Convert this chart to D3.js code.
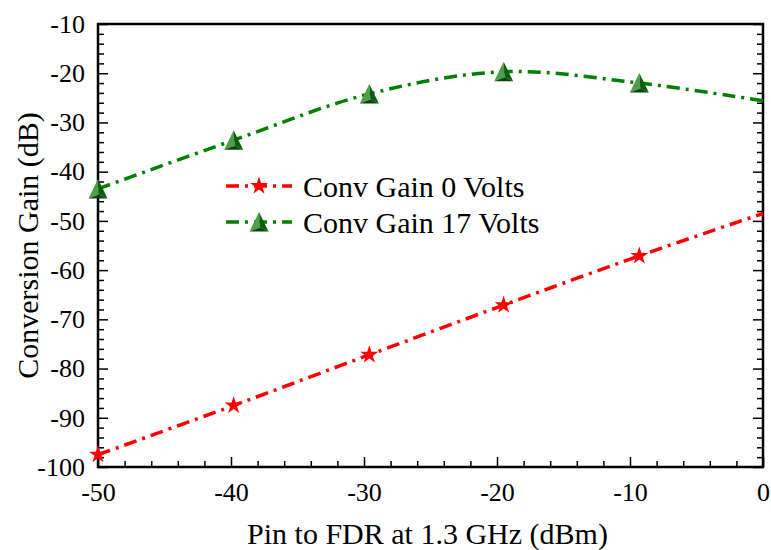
<!DOCTYPE html>
<html>
  <head>
    <meta charset="utf-8">
    <style>
    body { margin: 0; background: #fff; }
    .axis path { display: none; }
    .axis line { stroke: #000; stroke-width: 1.5px; }
    .line { fill: none; stroke-width: 3.5px; stroke-dasharray: 13, 6, 3, 6; }
    </style>
  </head>
  <body>
    <script src="https://d3js.org/d3.v7.min.js"></script>
    <script>

    // data
    var pin = [-50, -39.8, -29.6, -19.5, -9.3, 0];
    var gain0V = [-97.5, -87.5, -77.2, -67.1, -57.1, -48.5];
    var gain17V = [-43.5, -33.6, -24.2, -19.7, -22.0, -25.6];
    var markerCount = 5;   // last point has no marker
    var xTicks = [-50, -40, -30, -20, -10, 0];
    var yTicks = [-100, -90, -80, -70, -60, -50, -40, -30, -20, -10];
    var legendLabels = ["Conv Gain 0 Volts", "Conv Gain 17 Volts"];

    var serif = "'Liberation Serif', Tinos, 'DejaVu Serif', 'Noto Serif', serif";

    var width = 771, height = 550;
    var margin = {top: 24, right: 8, bottom: 83, left: 98};

    var x = d3.scaleLinear().domain([-50, 0]).range([margin.left, width - margin.right]);
    var y = d3.scaleLinear().domain([-100, -10]).range([height - margin.bottom, margin.top]);

    var svg = d3.select("body").append("svg")
        .attr("width", width)
        .attr("height", height)
        .style("font-family", serif);

    var minorX = d3.range(-50, 0.1, 2).filter(function(v) { return v % 10 !== 0; });
    var minorY = d3.range(-100, -9.9, 2).filter(function(v) { return v % 10 !== 0; });

    // plain hyphen labels like the original
    function fmt(d) { return String(d); }

    // bottom axis, ticks pointing inward
    svg.append("g").attr("class", "axis")
        .attr("transform", "translate(0," + y(-100) + ")")
        .call(d3.axisBottom(x).tickValues(xTicks).tickSize(-10).tickPadding(16).tickFormat(fmt))
        .attr("font-family", serif)
        .selectAll("text").style("font-size", "26px").style("font-family", serif);
    svg.append("g").attr("class", "axis")
        .attr("transform", "translate(0," + y(-100) + ")")
        .call(d3.axisBottom(x).tickValues(minorX).tickSize(-6).tickFormat(""));

    // left axis
    svg.append("g").attr("class", "axis")
        .attr("transform", "translate(" + x(-50) + ",0)")
        .call(d3.axisLeft(y).tickValues(yTicks).tickSize(-10).tickPadding(13).tickFormat(fmt))
        .attr("font-family", serif)
        .selectAll("text").style("font-size", "26px").style("font-family", serif);
    svg.append("g").attr("class", "axis")
        .attr("transform", "translate(" + x(-50) + ",0)")
        .call(d3.axisLeft(y).tickValues(minorY).tickSize(-6).tickFormat(""));

    // right axis, no labels
    svg.append("g").attr("class", "axis")
        .attr("transform", "translate(" + x(0) + ",0)")
        .call(d3.axisRight(y).tickValues(yTicks).tickSize(-10).tickFormat(""));
    svg.append("g").attr("class", "axis")
        .attr("transform", "translate(" + x(0) + ",0)")
        .call(d3.axisRight(y).tickValues(minorY).tickSize(-6).tickFormat(""));

    // frame
    svg.append("rect")
        .attr("x", x(-50)).attr("y", y(-10))
        .attr("width", x(0) - x(-50)).attr("height", y(-100) - y(-10))
        .attr("fill", "none").attr("stroke", "#000").attr("stroke-width", 2.5);

    // axis titles
    svg.append("text")
        .attr("x", (x(-50) + x(0)) / 2 - 3)
        .attr("y", 544)
        .attr("text-anchor", "middle")
        .style("font-family", serif)
        .style("font-size", "30px")
        .text("Pin to FDR at 1.3 GHz (dBm)");

    svg.append("text")
        .attr("transform", "translate(38," + (y(-100) + y(-10)) / 2 + ") rotate(-90)")
        .attr("text-anchor", "middle")
        .style("font-family", serif)
        .style("font-size", "30px")
        .text("Conversion Gain (dB)");

    var line = d3.line()
        .x(function(d) { return x(d[0]); })
        .y(function(d) { return y(d[1]); })
        .curve(d3.curveCatmullRom.alpha(0.5));

    var red = pin.map(function(p, i) { return [p, gain0V[i]]; });
    var green = pin.map(function(p, i) { return [p, gain17V[i]]; });

    svg.append("path").datum(red).attr("class", "line").attr("stroke", "#ff0000").attr("d", line);
    svg.append("path").datum(green).attr("class", "line").attr("stroke", "#008000").attr("d", line);

    var star = d3.symbol().type(d3.symbolStar).size(100);

    function drawStar(g, cx, cy) {
      g.append("path").attr("d", star)
          .attr("transform", "translate(" + cx + "," + cy + ")")
          .attr("fill", "#ff0000");
    }

    // shaded pyramid marker
    function drawTri(g, cx, cy) {
      var m = g.append("g").attr("transform", "translate(" + cx + "," + cy + ")");
      m.append("polygon").attr("points", "0,-10 -9.5,9.5 1,5.5").attr("fill", "#4e9e4e");
      m.append("polygon").attr("points", "0,-10 1,5.5 9.5,9.5").attr("fill", "#0d5f0d");
      m.append("polygon").attr("points", "-9.5,9.5 1,5.5 9.5,9.5").attr("fill", "#0a450a");
    }

    red.slice(0, markerCount).forEach(function(d) { drawStar(svg, x(d[0]), y(d[1])); });
    green.slice(0, markerCount).forEach(function(d) { drawTri(svg, x(d[0]), y(d[1])); });

    // legend
    var legend = [
      {label: legendLabels[0], color: "#ff0000", marker: drawStar, ly: 186},
      {label: legendLabels[1], color: "#008000", marker: drawTri, ly: 222}
    ];
    legend.forEach(function(l) {
      svg.append("line")
          .attr("class", "line")
          .attr("x1", 226).attr("x2", 292)
          .attr("y1", l.ly).attr("y2", l.ly)
          .attr("stroke", l.color);
      l.marker(svg, 259, l.ly);
      svg.append("text")
          .attr("x", 303).attr("y", l.ly + 11)
          .style("font-family", serif)
          .style("font-size", "30px")
          .text(l.label);
    });

    </script>
  </body>
</html>
